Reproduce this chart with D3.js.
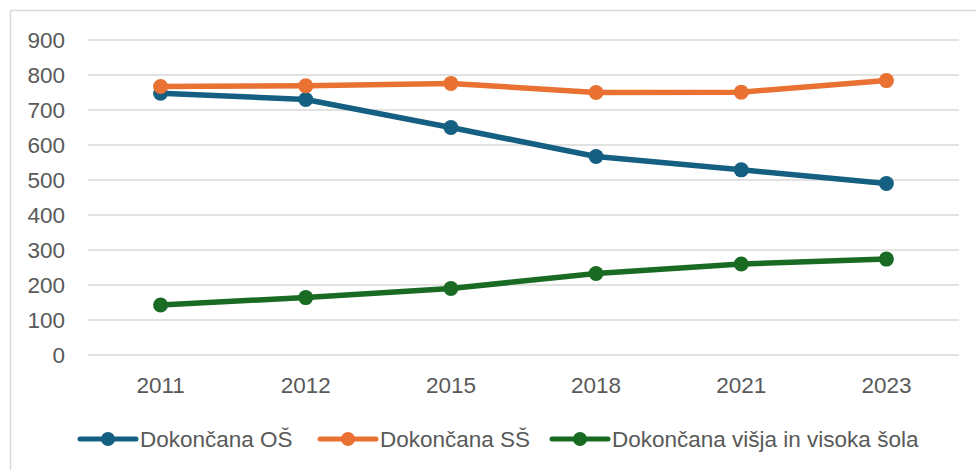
<!DOCTYPE html>
<html>
<head>
<meta charset="utf-8">
<script src="https://cdn.jsdelivr.net/npm/d3@7"></script>
<style>
  body { margin: 0; background: #fff; }
  svg { display: block; font-family: "Liberation Sans", Arial, sans-serif; }
</style>
</head>
<body>
<svg id="chart" width="976" height="470"></svg>
<script>
// chart data
const years = ["2011", "2012", "2015", "2018", "2021", "2023"];
const osValues = [748, 730, 650, 567, 529, 490];
const ssValues = [767, 769, 776, 750, 751, 784];
const visjaValues = [143, 164, 190, 233, 260, 274];
const yTicks = [0, 100, 200, 300, 400, 500, 600, 700, 800, 900];
const seriesNames = ["Dokončana OŠ", "Dokončana SŠ", "Dokončana višja in visoka šola"];
const seriesColors = ["#156082", "#E97132", "#196B24"];

const series = [osValues, ssValues, visjaValues].map((values, i) => ({
  name: seriesNames[i],
  color: seriesColors[i],
  points: years.map((year, j) => ({ year, value: values[j] }))
}));

const svg = d3.select("#chart");
const fontSize = "22.5px";

// chart area border (only left/top visible in the reference)
svg.append("path")
  .attr("d", "M10.5,470 L10.5,10.5 L976,10.5")
  .attr("fill", "none")
  .attr("stroke", "#d9d9d9")
  .attr("stroke-width", 1.5);

const x = d3.scalePoint()
  .domain(years)
  .range([88, 959])
  .padding(0.5);

const y = d3.scaleLinear()
  .domain([0, 900])
  .range([355, 40]);

// gridlines
svg.append("g")
  .selectAll("line")
  .data(yTicks)
  .enter().append("line")
  .attr("x1", 88)
  .attr("x2", 959)
  .attr("y1", d => y(d))
  .attr("y2", d => y(d))
  .attr("stroke", "#d9d9d9")
  .attr("stroke-width", 1.5);

// y axis labels
svg.append("g")
  .selectAll("text")
  .data(yTicks)
  .enter().append("text")
  .attr("x", 65)
  .attr("y", d => y(d))
  .attr("dy", "0.36em")
  .attr("text-anchor", "end")
  .style("font-size", fontSize)
  .style("fill", "#595959")
  .text(d => d);

// x axis labels
svg.append("g")
  .selectAll("text")
  .data(years)
  .enter().append("text")
  .attr("x", d => x(d))
  .attr("y", 393)
  .attr("text-anchor", "middle")
  .style("font-size", fontSize)
  .style("fill", "#595959")
  .text(d => d);

const line = d3.line()
  .x(d => x(d.year))
  .y(d => y(d.value));

// lines and markers
series.forEach(s => {
  const g = svg.append("g");
  g.append("path")
    .datum(s.points)
    .attr("d", line)
    .attr("fill", "none")
    .attr("stroke", s.color)
    .attr("stroke-width", 5.5)
    .attr("stroke-linejoin", "round")
    .attr("stroke-linecap", "round");
  g.selectAll("circle")
    .data(s.points)
    .enter().append("circle")
    .attr("cx", d => x(d.year))
    .attr("cy", d => y(d.value))
    .attr("r", 7.5)
    .attr("fill", s.color);
});

// legend
const legendX = [80, 320, 552];
const legendY = 439;
const legend = svg.append("g")
  .selectAll("g")
  .data(series)
  .enter().append("g")
  .attr("transform", (d, i) => `translate(${legendX[i]},${legendY})`);

legend.append("line")
  .attr("x1", 0)
  .attr("x2", 56)
  .attr("stroke", d => d.color)
  .attr("stroke-width", 5)
  .attr("stroke-linecap", "round");

legend.append("circle")
  .attr("cx", 28)
  .attr("r", 7)
  .attr("fill", d => d.color);

legend.append("text")
  .attr("x", 60)
  .attr("dy", "0.36em")
  .style("font-size", fontSize)
  .style("fill", "#595959")
  .text(d => d.name);
</script>
</body>
</html>
